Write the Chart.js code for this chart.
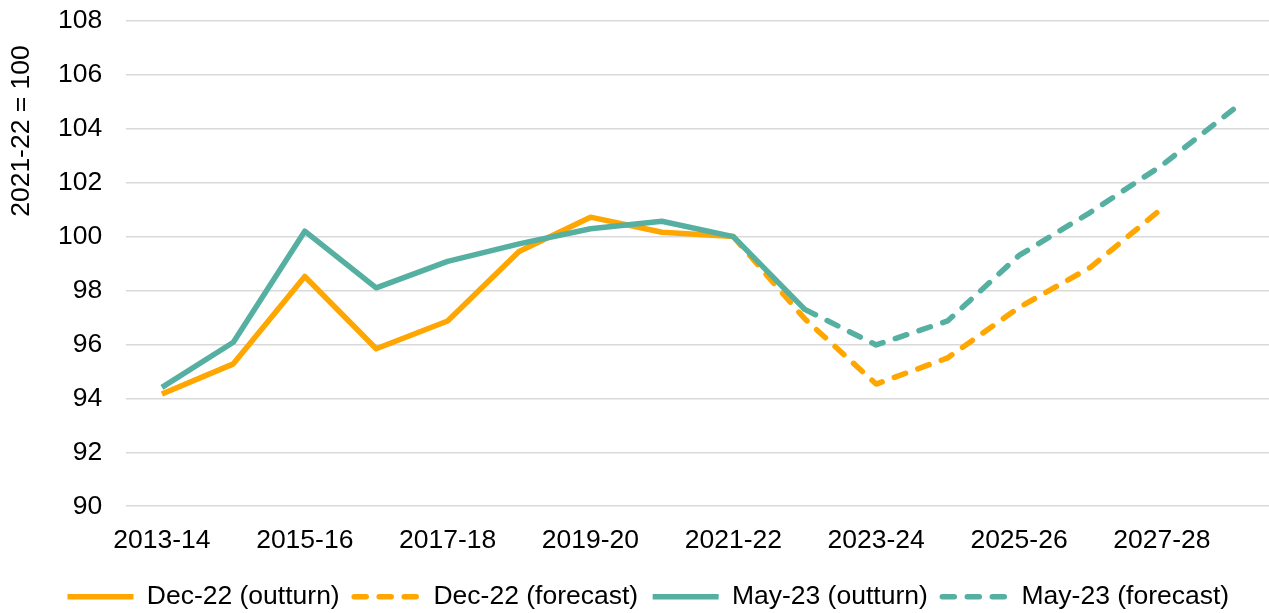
<!DOCTYPE html>
<html>
<head>
<meta charset="utf-8">
<script src="https://cdn.jsdelivr.net/npm/chart.js@4"></script>
<style>
  html, body { margin: 0; padding: 0; background: #fff; }
  #wrap { width: 1269px; height: 613px; position: relative; }
</style>
</head>
<body>
<div id="wrap"><canvas id="chart"></canvas></div>
<script>
const years = ['2013-14', '2014-15', '2015-16', '2016-17', '2017-18', '2018-19', '2019-20', '2020-21',
  '2021-22', '2022-23', '2023-24', '2024-25', '2025-26', '2026-27', '2027-28', '2028-29'];

const dec22Outturn = [94.16, 95.28, 98.52, 95.84, 96.87, 99.45, 100.72, 100.16, 100,
  null, null, null, null, null, null, null];
const dec22Forecast = [null, null, null, null, null, null, null, null, 100,
  96.95, 94.53, 95.5, 97.37, 98.86, 101.04, null];
const may23Outturn = [94.41, 96.08, 100.2, 98.1, 99.08, 99.73, 100.29, 100.57, 100,
  97.3, null, null, null, null, null, null];
const may23Forecast = [null, null, null, null, null, null, null, null, null,
  97.3, 95.98, 96.87, 99.3, 100.9, 102.64, 104.72];

const yTitle = '2021-22 = 100';
const ORANGE = '#FFA600';
const TEAL = '#55B0A2';
const DASH = [12, 13];
const FONT = "'Liberation Sans', Arial, sans-serif";
const FS = 26.5;

// y title sits near the top in the original, so draw it by hand
const yTitlePlugin = {
  id: 'yTitle',
  afterDraw(chart) {
    const ctx = chart.ctx;
    ctx.save();
    ctx.translate(22, 131);
    ctx.rotate(-Math.PI / 2);
    ctx.font = `${FS}px ${FONT}`;
    ctx.fillStyle = '#000';
    ctx.textAlign = 'center';
    ctx.textBaseline = 'middle';
    ctx.fillText(yTitle, 0, 0);
    ctx.restore();
  }
};

function series(label, data, color, dashed, order) {
  return {
    label,
    data,
    borderColor: color,
    backgroundColor: color,
    borderWidth: 5.5,
    borderDash: dashed ? DASH : [],
    borderCapStyle: dashed ? 'round' : 'butt',
    borderJoinStyle: 'round',
    pointRadius: 0,
    tension: 0,
    spanGaps: false,
    order,
  };
}

new Chart(document.getElementById('chart'), {
  type: 'line',
  data: {
    labels: years,
    datasets: [
      series('Dec-22 (outturn)', dec22Outturn, ORANGE, false, 1),
      series('Dec-22 (forecast)', dec22Forecast, ORANGE, true, 1),
      series('May-23 (outturn)', may23Outturn, TEAL, false, 0),
      series('May-23 (forecast)', may23Forecast, TEAL, true, 0),
    ]
  },
  options: {
    responsive: true,
    maintainAspectRatio: false,
    animation: false,
    layout: { padding: { left: 53, right: 0, top: 0, bottom: -7 } },
    plugins: {
      tooltip: { enabled: false },
      legend: {
        position: 'bottom',
        align: 'start',
        labels: {
          color: '#000',
          font: { family: FONT, size: FS },
          usePointStyle: true,
          pointStyleWidth: 66,
          padding: 14.5,
          generateLabels: (chart) => chart.data.datasets.map((ds, i) => ({
            text: ds.label,
            datasetIndex: i,
            pointStyle: 'line',
            strokeStyle: ds.borderColor,
            fillStyle: ds.borderColor,
            lineWidth: 5.5,
            lineDash: ds.borderDash,
            lineCap: ds.borderDash.length ? 'round' : 'butt',
            fontColor: '#000',
          }))
        }
      }
    },
    scales: {
      x: {
        offset: true,
        grid: { display: false, drawTicks: false },
        border: { display: false },
        afterFit: (scale) => { scale.height -= 7; },
        ticks: {
          color: '#000',
          font: { family: FONT, size: FS },
          autoSkip: false,
          maxRotation: 0,
          padding: 19,
          callback: function(val, idx) {
            return idx % 2 === 0 ? this.getLabelForValue(val) : '';
          }
        }
      },
      y: {
        min: 90,
        max: 108,
        // invisible tick marks give the label gap without extra top padding
        grid: { color: '#D9D9D9', lineWidth: 1.5, drawTicks: true, tickLength: 19, tickColor: 'rgba(0,0,0,0)' },
        border: { display: false },
        ticks: {
          stepSize: 2,
          color: '#000',
          font: { family: FONT, size: FS },
          padding: 5,
        }
      }
    }
  },
  plugins: [yTitlePlugin]
});
</script>
</body>
</html>
